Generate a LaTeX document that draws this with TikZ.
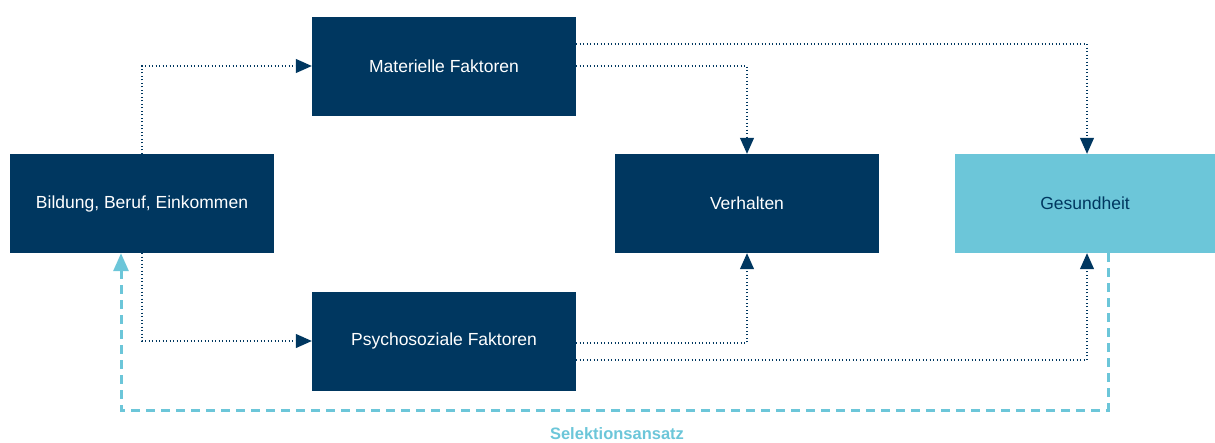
\documentclass[tikz,border=0pt]{standalone}
\usepackage{fontspec}
\setmainfont{Liberation Sans}
\usetikzlibrary{arrows.meta}
\definecolor{navy}{HTML}{003760}
\definecolor{lblue}{HTML}{6CC6D9}
\tikzset{
  darkbox/.style={fill=navy, text=white, minimum width=264pt, minimum height=99pt, inner sep=0pt, font=\fontsize{17.5}{20}\selectfont},
  lightbox/.style={fill=lblue, text=navy, minimum width=260pt, minimum height=99pt, inner sep=0pt, font=\fontsize{17.5}{20}\selectfont},
  dotline/.style={navy, line width=1.1pt, dash pattern=on 1.1pt off 2.4pt, -{Triangle[length=16pt,width=14pt]}},
  selline/.style={lblue, line width=3pt, dash pattern=on 9pt off 6pt, -{Triangle[length=18pt,width=15pt]}}
}
\begin{document}
\begin{tikzpicture}[x=1pt,y=-1pt]
\useasboundingbox (0,0) rectangle (1215,442);
\node[darkbox] (bil) at (142,203.5) {Bildung, Beruf, Einkommen};
\node[darkbox] (mat) at (444,66) {Materielle Faktoren};
\node[darkbox] (psy) at (444,341) {Psychosoziale Faktoren};
\node[darkbox] (ver) at (747,203.5) {Verhalten};
\node[lightbox] (ges) at (1085,203.5) {Gesundheit};
\draw[dotline] (bil.north) |- (mat.west);
\draw[dotline] (bil.south) |- (psy.west);
\draw[dotline] ([yshift=22pt]mat.east) -| ([xshift=2pt]ges.north);
\draw[dotline] (mat.east) -| (ver.north);
\draw[dotline] ([yshift=-2pt]psy.east) -| (ver.south);
\draw[dotline] ([yshift=-19pt]psy.east) -| ([xshift=2pt]ges.south);
\coordinate (c1) at (1108,410);
\coordinate (c2) at (121,410);
\draw[selline] ([xshift=23pt]ges.south) -- (c1) -- (c2) -- (c2 |- bil.south);
\node[text=lblue, font=\bfseries\fontsize{16.5}{19}\selectfont, anchor=base, inner sep=0pt] (sel) at (617,439.5) {Selektionsansatz};
\end{tikzpicture}
\end{document}
